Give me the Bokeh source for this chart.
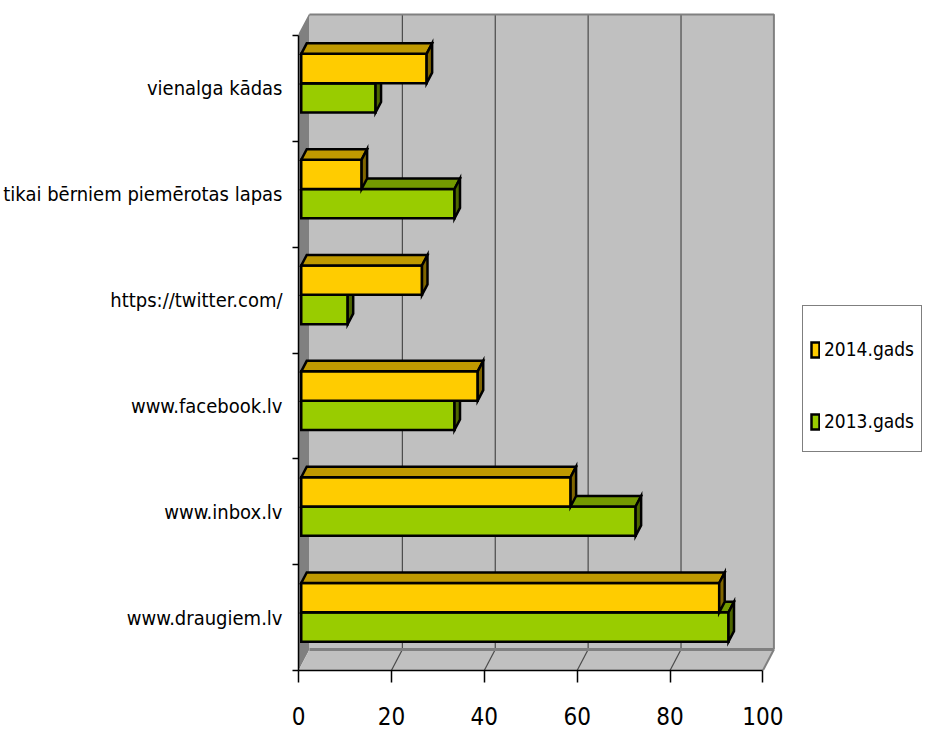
from bokeh.plotting import figure
from bokeh.models import Range1d, FixedTicker, Legend, LegendItem
from bokeh.embed import file_html
from bokeh.resources import INLINE

# ---- data ----
categories = ["www.draugiem.lv", "www.inbox.lv", "www.facebook.lv",
              "https://twitter.com/", "tikai bērniem piemērotas lapas", "vienalga kādas"]
values_2014 = [90, 58, 38, 26, 13, 27]
values_2013 = [92, 72, 33, 10, 33, 16]
series_names = ["2014.gads", "2013.gads"]
x_ticks = [0, 20, 40, 60, 80, 100]
x_max = 100

# ---- layout / style constants ----
FONT = "'Liberation Sans Narrow', 'DejaVu Sans Condensed', sans-serif"
W, H = 925, 736
BORDER_L, BORDER_B = 298, 66
PX_X = 4.644          # px per x unit
PX_Y = 105.83         # px per category
DX = 11 / PX_X        # wall depth in data units
DY = 21 / PX_Y
BAR_H = 0.277
F0, F1 = 0.25, 0.75   # bar depth (front/back fraction of wall depth)
n = len(categories)

frame_w = W - BORDER_L
frame_h = H - BORDER_B
p = figure(width=W, height=H, output_backend="svg", toolbar_location=None,
           x_range=Range1d(0, frame_w / PX_X), y_range=Range1d(0, frame_h / PX_Y),
           min_border_left=BORDER_L, min_border_right=0, min_border_top=0,
           min_border_bottom=BORDER_B)
p.outline_line_color = None
p.xgrid.visible = False
p.ygrid.visible = False
p.background_fill_color = "white"
p.border_fill_color = "white"

WALL = "#C0C0C0"
EDGE = "#808080"
GRID = "#4a4a4a"

# side wall
p.patch([0, DX, DX, 0], [0, DY, n + DY, n], fill_color=EDGE, line_color=None)
# floor
p.patch([0, x_max, x_max + DX, DX], [0, 0, DY, DY], fill_color=WALL, line_color=None)
# back wall
p.quad(left=DX, right=x_max + DX, bottom=DY, top=n + DY, fill_color=WALL, line_color=None)
# grid lines on back wall and floor
inner = [t for t in x_ticks if 0 < t < x_max]
p.segment(x0=[t + DX for t in inner], y0=[DY] * len(inner),
          x1=[t + DX for t in inner], y1=[n + DY] * len(inner), line_color=GRID, line_width=1.2)
p.segment(x0=inner, y0=[0] * len(inner), x1=[t + DX for t in inner], y1=[DY] * len(inner),
          line_color=GRID, line_width=1.2)
# wall edges
p.line([DX, x_max + DX, x_max + DX], [n + DY, n + DY, DY], line_color=EDGE, line_width=2)
p.line([DX, x_max + DX], [DY, DY], line_color=EDGE, line_width=3)
p.line([x_max, x_max + DX], [0, DY], line_color=EDGE, line_width=2)
p.line([0, DX], [n, n + DY], line_color=EDGE, line_width=1.5)


def faces(vals, base):
    fx, fy, tx, ty, sx, sy = [], [], [], [], [], []
    hx, hy = (F1 - F0) * DX, (F1 - F0) * DY
    for i, v in enumerate(vals):
        x0 = F0 * DX
        x1 = v + F0 * DX
        y0 = i + base + F0 * DY
        y1 = y0 + BAR_H
        fx.append([x0, x1, x1, x0]); fy.append([y0, y0, y1, y1])
        tx.append([x0, x1, x1 + hx, x0 + hx]); ty.append([y1, y1, y1 + hy, y1 + hy])
        sx.append([x1, x1 + hx, x1 + hx, x1]); sy.append([y0, y0 + hy, y1 + hy, y1])
    return fx, fy, tx, ty, sx, sy


series = [
    (values_2013, 0.5 - BAR_H, "#99CC00", "#739900", "#4D6600"),
    (values_2014, 0.5, "#FFCC00", "#BF9900", "#806600"),
]
front_renderers = []
for vals, base, c_front, c_top, c_side in series:
    fx, fy, tx, ty, sx, sy = faces(vals, base)
    kw = dict(line_color="black", line_width=2.5, line_join="miter")
    r = p.patches(fx, fy, fill_color=c_front, **kw)
    p.patches(tx, ty, fill_color=c_top, **kw)
    p.patches(sx, sy, fill_color=c_side, **kw)
    front_renderers.append(r)

# axes
xa = p.xaxis[0]
xa.ticker = FixedTicker(ticks=x_ticks)
xa.bounds = (0, x_max)
xa.axis_line_color = "black"
xa.axis_line_width = 1.5
xa.major_tick_in = 0
xa.major_tick_out = 12
xa.major_tick_line_color = "black"
xa.major_tick_line_width = 1.5
xa.minor_tick_line_color = None
xa.major_label_text_font = FONT
xa.major_label_text_font_size = "24px"
xa.major_label_text_color = "black"
xa.major_label_standoff = 24

ya = p.yaxis[0]
centers = [i + 0.5 for i in range(n)]
ya.ticker = FixedTicker(ticks=centers, minor_ticks=list(range(n + 1)))
ya.major_label_overrides = {c: lab for c, lab in zip(centers, categories)}
ya.bounds = (0, n)
ya.axis_line_color = "black"
ya.axis_line_width = 1.5
ya.major_tick_in = 0
ya.major_tick_out = 0
ya.minor_tick_in = 0
ya.minor_tick_out = 6
ya.minor_tick_line_color = "black"
ya.minor_tick_line_width = 1.5
ya.major_label_text_font = FONT
ya.major_label_text_font_size = "20px"
ya.major_label_text_color = "black"
ya.major_label_standoff = 10

# legend (2014 first)
legend = Legend(
    items=[LegendItem(label=series_names[0], renderers=[front_renderers[1]]),
           LegendItem(label=series_names[1], renderers=[front_renderers[0]])],
    location=(504, 218), margin=0, padding=7, spacing=26,
    glyph_width=10, glyph_height=19, label_height=46, label_standoff=4,
    label_text_font=FONT, label_text_font_size="19px", label_text_color="black",
    title=" ", title_text_font_size="8px", title_standoff=4,
    border_line_color="black", border_line_width=1,
    background_fill_color="white", background_fill_alpha=1.0,
)
p.add_layout(legend)

open("out.html", "w").write(file_html(p, INLINE))
